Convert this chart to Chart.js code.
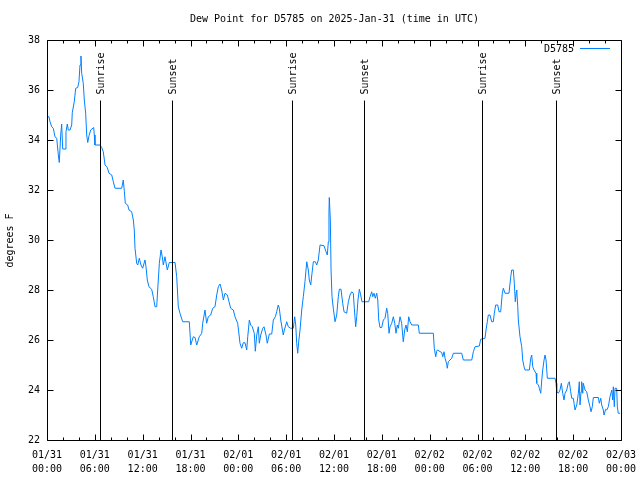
<!DOCTYPE html>
<html>
<head>
<meta charset="utf-8">
<script src="https://cdn.jsdelivr.net/npm/chart.js@4"></script>
<style>
html,body{margin:0;padding:0;background:#fff;}
#c{display:block;}
</style>
</head>
<body>
<canvas id="c" width="640" height="480"></canvas>
<script>
const chartTitle = "Dew Point for D5785 on 2025-Jan-31 (time in UTC)";
const seriesName = "D5785";
const yAxisTitle = "degrees F";

// hours since 01/31 00:00 UTC
const hours = [0,0.25,0.38,0.59,0.79,1.00,1.22,1.42,1.54,1.72,1.84,1.97,2.26,2.38,2.55,2.67,2.89,3.10,3.17,3.42,
3.60,3.85,4.01,4.14,4.26,4.35,4.55,4.68,4.85,4.98,5.11,5.27,5.48,5.86,5.93,6.02,6.65,6.86,7.06,7.28,
7.56,7.78,8.12,8.32,8.53,9.37,9.57,9.70,9.82,10.12,10.29,10.62,10.83,10.95,11.04,11.25,11.38,11.58,11.79,12.00,
12.29,12.42,12.58,12.79,13.13,13.33,13.55,13.76,13.96,14.09,14.30,14.46,14.59,14.80,15.09,15.34,16.06,16.27,16.47,16.68,
17.02,17.85,18.03,18.35,18.57,18.78,19.10,19.41,19.53,19.82,20.03,20.23,20.53,20.79,21.07,21.29,21.49,21.70,21.91,22.12,
22.33,22.62,22.83,23.04,23.37,23.58,23.92,24.21,24.42,24.62,24.84,25.05,25.18,25.38,25.55,25.75,26.00,26.13,26.31,26.51,
26.63,26.81,27.06,27.22,27.47,27.63,27.89,28.19,28.39,28.64,28.81,29.01,29.14,29.32,29.64,29.77,30.07,30.27,30.57,30.90,
31.07,31.20,31.32,31.45,31.57,31.74,31.95,32.15,32.36,32.58,32.78,32.90,33.08,33.24,33.41,33.66,33.83,34.03,34.25,34.75,
35.00,35.16,35.29,35.37,35.41,35.54,35.63,35.75,35.91,36.13,36.34,36.54,36.67,36.88,37.09,37.26,37.59,37.80,38.01,38.22,
38.42,38.55,38.72,38.85,39.01,39.18,39.35,39.51,40.35,40.52,40.73,40.86,41.02,41.18,41.36,41.49,41.61,41.77,41.98,42.19,
42.40,42.61,42.74,42.90,43.03,43.24,43.44,43.62,43.78,43.94,44.07,44.28,44.49,44.69,44.87,45.03,45.20,45.37,45.54,45.75,
46.58,46.70,48.46,48.58,48.76,48.88,48.96,49.51,49.64,49.80,49.93,50.14,50.21,50.34,50.55,50.77,50.97,52.02,52.22,53.28,
53.48,53.69,54.23,54.40,54.94,55.07,55.23,55.36,55.57,55.78,55.98,56.11,56.28,56.54,56.70,56.91,57.11,57.24,57.45,57.95,
58.17,58.29,58.49,58.62,58.74,58.87,58.92,59.05,59.12,59.33,59.55,59.67,59.84,59.96,60.50,60.68,60.80,60.93,61.09,61.34,
61.43,61.63,61.76,61.93,62.06,62.18,62.35,62.47,62.60,62.76,63.73,63.85,63.94,64.14,64.35,64.52,64.69,64.85,64.98,65.19,
65.39,65.52,65.69,65.82,66.02,66.11,66.23,66.45,66.65,66.77,66.86,66.99,67.07,67.20,67.27,67.49,67.70,67.90,68.11,68.24,
68.40,68.53,69.16,69.28,69.46,69.58,69.78,69.87,70.08,70.21,70.41,70.62,70.84,70.96,71.04,71.16,71.25,71.46,71.54,71.66,
71.88];

const dewPointF = [34.93,34.93,34.73,34.53,34.47,34.13,34.07,33.4,33.1,34.2,34.64,33.64,33.64,34.33,34.64,34.4,34.4,34.6,35.09,35.53,
36.07,36.1,36.33,37.0,37.36,36.67,36.27,35.6,35.07,34.2,33.9,34.17,34.4,34.5,34.2,33.8,33.8,33.7,33.53,33.0,
32.9,32.67,32.6,32.33,32.07,32.07,32.4,31.95,31.47,31.4,31.2,31.13,30.8,30.4,29.67,29.07,29.0,29.27,29.0,28.87,
29.2,28.93,28.4,28.13,28.03,27.73,27.33,27.33,28.4,29.07,29.6,29.33,29.0,29.33,28.8,29.1,29.1,28.53,27.33,27.07,
26.73,26.73,25.8,26.13,26.1,25.8,26.13,26.27,26.67,27.2,26.67,26.93,27.0,27.27,27.33,27.8,28.13,28.24,28.0,27.6,
27.87,27.8,27.53,27.27,27.2,26.93,26.67,25.87,25.67,25.89,25.89,25.6,26.13,26.8,26.6,26.53,26.27,25.55,26.2,26.53,
25.87,26.2,26.47,26.53,26.2,25.87,26.24,26.24,26.8,26.93,27.13,27.4,27.27,26.8,26.2,26.4,26.73,26.53,26.47,26.47,
26.93,26.6,25.87,25.47,25.93,26.4,27.2,27.73,28.33,29.13,28.8,28.4,28.2,28.67,29.13,29.13,29.0,29.2,29.8,29.77,
29.53,29.4,29.93,31.13,31.7,30.8,28.8,27.73,27.27,26.73,27.0,27.73,28.03,28.03,27.47,27.13,27.07,27.53,27.8,27.93,
27.87,27.27,26.53,26.93,27.6,28.03,27.8,27.53,27.53,27.73,27.93,27.73,27.87,27.67,27.87,27.6,26.8,26.5,26.5,26.8,
26.87,27.27,27.07,26.27,26.53,26.67,26.93,26.67,26.27,26.6,26.47,26.93,26.67,25.93,26.4,26.6,26.33,26.93,26.73,26.6,
26.6,26.27,26.27,25.67,25.33,25.55,25.6,25.5,25.33,25.53,25.27,25.04,24.87,25.13,25.2,25.27,25.47,25.47,25.2,25.2,
25.53,25.73,25.76,26.03,26.07,26.4,26.73,27.0,27.0,26.73,26.73,27.07,27.4,27.4,27.13,27.13,27.87,28.07,27.87,27.87,
28.53,28.8,28.8,28.27,27.53,27.93,28.0,27.33,26.8,26.13,25.73,25.2,24.93,24.8,24.8,25.27,25.4,24.93,24.8,24.67,
24.27,24.2,24.07,23.87,24.4,24.8,25.2,25.4,25.2,24.47,24.47,24.27,23.93,23.87,24.0,24.27,23.87,23.6,23.87,24.0,
24.27,24.33,23.93,23.67,23.67,23.47,23.2,23.4,23.87,24.33,23.4,23.93,24.33,23.87,24.27,24.0,23.93,23.6,23.33,23.13,
23.33,23.7,23.7,23.47,23.67,23.4,23.2,23.0,23.23,23.2,23.33,23.73,24.0,23.6,24.13,23.33,24.07,24.07,23.33,23.07,
23.07];

const tickDates = ["01/31","01/31","01/31","01/31","02/01","02/01","02/01","02/01","02/02","02/02","02/02","02/02","02/03"];
const tickTimes = ["00:00","06:00","12:00","18:00","00:00","06:00","12:00","18:00","00:00","06:00","12:00","18:00","00:00"];

const sunNames = ["Sunrise","Sunset","Sunrise","Sunset","Sunrise","Sunset"];
const sunHours = [6.69,15.72,30.70,39.80,54.60,63.89];

const FONT = "DejaVu Sans Mono";
const LINE_COLOR = "#0080ff";

const gnuplotDecor = {
  id: "gnuplotDecor",
  afterDatasetsDraw(chart) {
    const ctx = chart.ctx;
    const xs = chart.scales.x, ys = chart.scales.y;
    const a = chart.chartArea;
    const L = Math.round(a.left) + 0.5, R = Math.round(a.right) + 0.5;
    const T = Math.round(a.top) + 0.5, B = Math.round(a.bottom) + 0.5;
    ctx.save();
    ctx.strokeStyle = "#000";
    ctx.lineWidth = 1;
    // sunrise / sunset markers
    ctx.fillStyle = "#000";
    ctx.font = "10px '" + FONT + "'";
    for (let i = 0; i < sunHours.length; i++) {
      const px = Math.round(xs.getPixelForValue(sunHours[i])) + 0.5;
      const topY = Math.round(a.top + (a.bottom - a.top) * 0.15) + 0.5;
      ctx.beginPath();
      ctx.moveTo(px, B);
      ctx.lineTo(px, topY);
      ctx.stroke();
      ctx.save();
      ctx.translate(px + 1, topY - 6);
      ctx.rotate(-Math.PI / 2);
      ctx.textAlign = "left";
      ctx.textBaseline = "middle";
      ctx.fillText(sunNames[i], 0, 0);
      ctx.restore();
    }
    // frame
    ctx.beginPath();
    ctx.rect(L, T, R - L, B - T);
    ctx.stroke();
    // x ticks (inward, mirrored on top)
    ctx.beginPath();
    for (let h = xs.min; h <= xs.max + 1e-9; h += 2) {
      const px = Math.round(xs.getPixelForValue(h)) + 0.5;
      const len = (Math.abs(h % 6) < 1e-9) ? 6 : 3;
      ctx.moveTo(px, B); ctx.lineTo(px, B - len);
      ctx.moveTo(px, T); ctx.lineTo(px, T + len);
    }
    // y ticks (inward, mirrored on right)
    for (let v = ys.min; v <= ys.max + 1e-9; v += 2) {
      const py = Math.round(ys.getPixelForValue(v)) + 0.5;
      ctx.moveTo(L, py); ctx.lineTo(L + 6, py);
      ctx.moveTo(R, py); ctx.lineTo(R - 6, py);
    }
    ctx.stroke();
    // title
    ctx.fillStyle = "#000";
    ctx.font = "10px '" + FONT + "'";
    ctx.textAlign = "center";
    ctx.textBaseline = "middle";
    ctx.fillText(chartTitle, (L + R) / 2, 19);
    // y axis title
    ctx.save();
    ctx.translate(10, (T + B) / 2);
    ctx.rotate(-Math.PI / 2);
    ctx.textAlign = "center";
    ctx.textBaseline = "middle";
    ctx.fillText(yAxisTitle, 0, 0);
    ctx.restore();
    // legend
    ctx.textAlign = "right";
    ctx.textBaseline = "middle";
    ctx.fillText(chart.data.datasets[0].label, 574, 49);
    ctx.strokeStyle = chart.data.datasets[0].borderColor;
    ctx.beginPath();
    ctx.moveTo(580, 48.5);
    ctx.lineTo(610, 48.5);
    ctx.stroke();
    ctx.restore();
  }
};

const points = hours.map((h, i) => ({ x: h, y: dewPointF[i] }));

new Chart(document.getElementById("c"), {
  type: "line",
  data: {
    datasets: [{
      label: seriesName,
      data: points,
      borderColor: LINE_COLOR,
      borderWidth: 1,
      pointRadius: 0,
      tension: 0,
      fill: false
    }]
  },
  options: {
    responsive: false,
    animation: false,
    devicePixelRatio: 1,
    layout: { padding: { left: 0, right: 19, top: 40, bottom: 0 } },
    plugins: { legend: { display: false }, title: { display: false }, tooltip: { enabled: false } },
    scales: {
      x: {
        type: "linear",
        min: 0,
        max: 72,
        afterFit(scale) { scale.height = 40; scale.paddingLeft = 0; scale.paddingRight = 0; },
        afterBuildTicks(scale) {
          scale.ticks = tickTimes.map((t, i) => ({ value: i * 6 }));
        },
        grid: { display: false, drawTicks: false },
        border: { display: false },
        ticks: {
          autoSkip: false,
          maxRotation: 0,
          padding: 8,
          color: "#000",
          font: { family: FONT, size: 10, lineHeight: 1.45 },
          callback(value) {
            const i = Math.round(value / 6);
            return [tickDates[i], tickTimes[i]];
          }
        }
      },
      y: {
        min: 22,
        max: 38,
        afterFit(scale) { scale.width = 47; scale.paddingTop = 0; scale.paddingBottom = 0; },
        grid: { display: false, drawTicks: false },
        border: { display: false },
        ticks: {
          stepSize: 2,
          padding: 7,
          color: "#000",
          font: { family: FONT, size: 10 }
        }
      }
    }
  },
  plugins: [gnuplotDecor]
});
</script>
</body>
</html>
